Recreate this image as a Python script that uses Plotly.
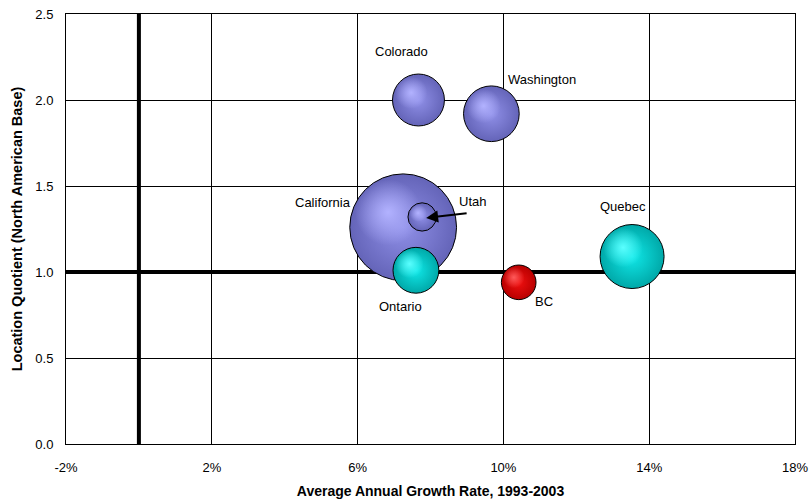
import math
import plotly.graph_objects as go

regions = ["Colorado", "Washington", "California", "Utah", "Ontario", "BC", "Quebec"]
growth = [7.67, 9.67, 7.25, 7.77, 7.60, 10.42, 13.53]          # % avg annual growth
lq = [2.00, 1.92, 1.26, 1.32, 1.01, 0.94, 1.09]                 # location quotient
size_val = [27, 31, 114, 8, 21, 12, 41]                          # bubble size measure
group = ["us", "us", "us", "us", "ca", "bc", "ca"]

x_ticks = [-2, 2, 6, 10, 14, 18]
y_ticks = [0.0, 0.5, 1.0, 1.5, 2.0, 2.5]

X_RANGE = [-2, 18]
Y_RANGE = [0, 2.5]
W, H = 809, 501
M = dict(l=66, r=14, t=14, b=57)
SIZEREF = 0.02

# (edge colour, mid colour, highlight colour RGB)
colors = {"us": ("#6464b8", "#9090e8", (178, 178, 255)),
          "ca": ("#00a8a8", "#10e8e8", (90, 255, 255)),
          "bc": ("#b80000", "#f01010", (255, 90, 90))}
# label offsets in pixels (xshift, yshift)
label_off = {"Colorado": (-17, 49), "Washington": (51, 34), "California": (-80, 25),
             "Utah": (50, 15), "Ontario": (-15, -36), "BC": (25, -19), "Quebec": (-9, 50)}

FONT = "Liberation Sans, Arial, sans-serif"

px_per_x = (W - M["l"] - M["r"]) / (X_RANGE[1] - X_RANGE[0])
px_per_y = (H - M["t"] - M["b"]) / (Y_RANGE[1] - Y_RANGE[0])

fig = go.Figure()
order = [2, 0, 1, 3, 4, 5, 6]
for i in order:
    edge, mid, hl = colors[group[i]]
    fig.add_trace(go.Scatter(
        x=[growth[i]], y=[lq[i]], mode="markers",
        marker=dict(size=[size_val[i]], sizemode="area", sizeref=SIZEREF, opacity=1,
                    color=edge, line=dict(color="black", width=1),
                    gradient=dict(type="radial", color=mid)),
        showlegend=False, hoverinfo="skip"))
    # soft off-centre highlight
    d = math.sqrt(2 * size_val[i] / SIZEREF)
    off = 0.14 * d
    fig.add_trace(go.Scatter(
        x=[growth[i] - off / px_per_x], y=[lq[i] + off / px_per_y], mode="markers",
        marker=dict(size=[0.62 * d], sizemode="diameter", opacity=1,
                    color="rgba(%d,%d,%d,0)" % hl, line=dict(width=0),
                    gradient=dict(type="radial", color="rgba(%d,%d,%d,1)" % hl)),
        showlegend=False, hoverinfo="skip"))

for i, name in enumerate(regions):
    dx, dy = label_off[name]
    fig.add_annotation(x=growth[i], y=lq[i], text=name, showarrow=False,
                       xshift=dx, yshift=dy, font=dict(family=FONT, size=13, color="black"))

ui = regions.index("Utah")
fig.add_annotation(x=growth[ui], y=lq[ui], xshift=4, yshift=-1, text="", showarrow=True,
                   ax=42, ay=-5, arrowhead=2, arrowsize=1.2, arrowwidth=2, arrowcolor="black")

fig.add_shape(type="line", xref="x", yref="paper", x0=0, x1=0, y0=0, y1=1,
              line=dict(color="black", width=4), layer="between")
fig.add_shape(type="line", xref="paper", yref="y", x0=0, x1=1, y0=1, y1=1,
              line=dict(color="black", width=4), layer="between")

fig.update_xaxes(range=X_RANGE, tickvals=x_ticks, ticktext=[f"{v}%" for v in x_ticks],
                 showgrid=True, gridcolor="black", gridwidth=1, zeroline=False,
                 showline=True, linecolor="black", linewidth=1, mirror=True,
                 ticks="", ticklabelstandoff=11, automargin=False,
                 tickfont=dict(family=FONT, size=13, color="black"),
                 title=dict(text="<b>Average Annual Growth Rate, 1993-2003</b>",
                            font=dict(family=FONT, size=14, color="black"), standoff=12))
fig.update_yaxes(range=Y_RANGE, tickvals=y_ticks, ticktext=[f"{v:.1f}" for v in y_ticks],
                 showgrid=True, gridcolor="black", gridwidth=1, zeroline=False,
                 showline=True, linecolor="black", linewidth=1, mirror=True,
                 ticks="", ticklabelstandoff=9, automargin=False,
                 tickfont=dict(family=FONT, size=13, color="black"),
                 title=dict(text="<b>Location Quotient (North American Base)</b>",
                            font=dict(family=FONT, size=14.5, color="black"), standoff=9))

fig.update_layout(width=W, height=H, margin=M,
                  plot_bgcolor="white", paper_bgcolor="white")

fig.write_html("out.html")
